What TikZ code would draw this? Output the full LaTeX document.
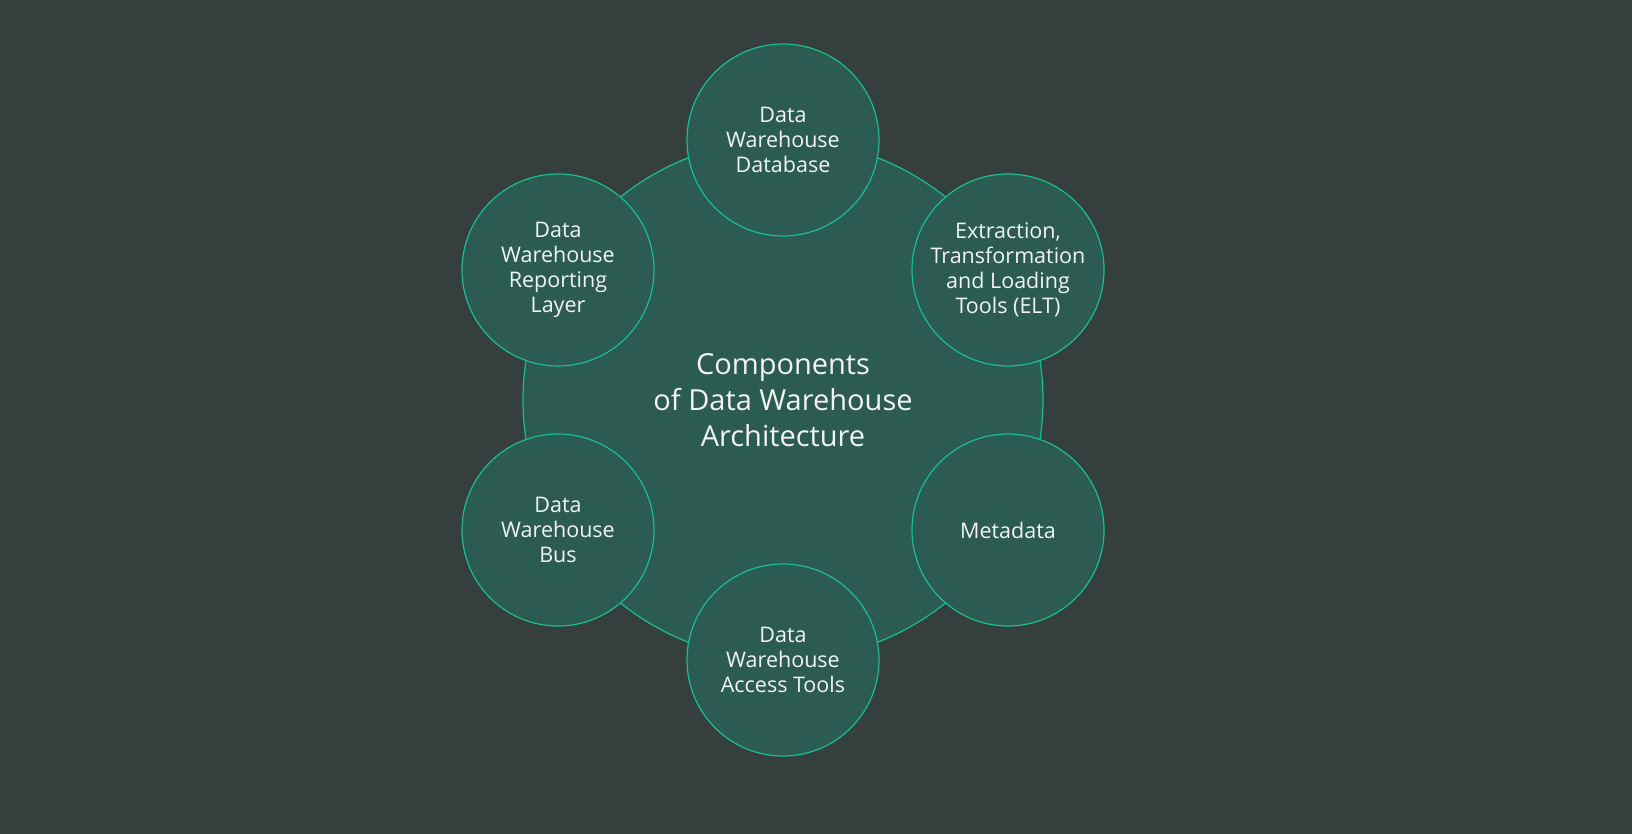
\documentclass[tikz,border=0pt]{standalone}
\usepackage{fontspec}
\setmainfont{Open Sans}
\definecolor{bgc}{HTML}{353F3D}
\definecolor{fillc}{HTML}{2C5B52}
\definecolor{linec}{HTML}{19BE92}
\definecolor{txtc}{HTML}{F2F5F4}
\begin{document}
\begin{tikzpicture}[x=1pt,y=-1pt,
  small/.style={circle,draw=linec,fill=fillc,line width=1.2pt,minimum size=192pt,inner sep=0pt,
    text=txtc,align=center,font=\fontsize{21.5}{25}\selectfont},
  big/.style={circle,draw=linec,fill=fillc,line width=1.2pt,minimum size=520pt,inner sep=0pt,
    text=txtc,align=center,font=\fontsize{29}{36}\selectfont}]
\fill[bgc] (0,0) rectangle (1632,834);
\useasboundingbox (0,0) rectangle (1632,834);
\node[big] (c) at (783,400) {Components\\of Data Warehouse\\Architecture};
\node[small] (n1) at (783,140) {Data\\Warehouse\\Database};
\node[small] (n2) at (1008,270) {Extraction,\\Transformation\\and Loading\\Tools (ELT)};
\node[small] (n3) at (1008,530) {Metadata};
\node[small] (n4) at (783,660) {Data\\Warehouse\\Access Tools};
\node[small] (n5) at (558,530) {Data\\Warehouse\\Bus};
\node[small] (n6) at (558,270) {Data\\Warehouse\\Reporting\\Layer};
\end{tikzpicture}
\end{document}
